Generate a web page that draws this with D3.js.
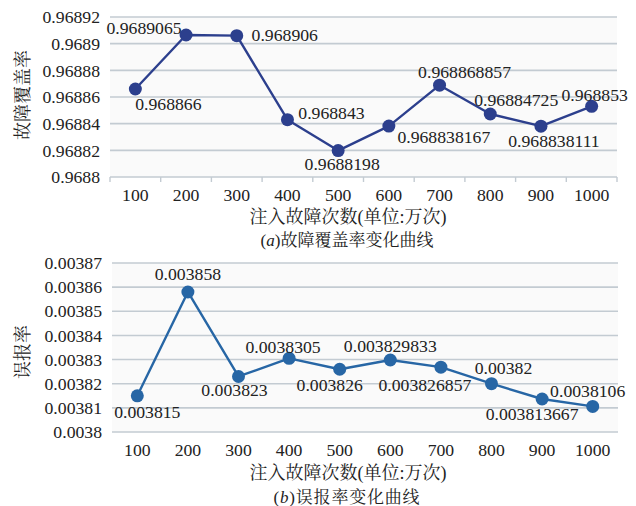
<!DOCTYPE html>
<html>
<head>
<meta charset="utf-8">
<script src="https://cdn.jsdelivr.net/npm/d3@7"></script>
<style>
  html, body { margin: 0; padding: 0; background: #fff; }
  svg { display: block; }
  text { font-family: "Liberation Serif", "Noto Serif CJK SC", serif; fill: #222; }
</style>
</head>
<body>
<svg id="chart" width="636" height="506"></svg>
<script>
// Injection counts (units of 10k)
const categories = ["100", "200", "300", "400", "500", "600", "700", "800", "900", "1000"];

// (a) fault coverage rate
const coverageValues = [0.968866, 0.9689065, 0.968906, 0.968843, 0.9688198,
                        0.968838167, 0.968868857, 0.96884725, 0.968838111, 0.968853];
const coverageLabels = ["0.968866", "0.9689065", "0.968906", "0.968843", "0.9688198",
                        "0.968838167", "0.968868857", "0.96884725", "0.968838111", "0.968853"];
const coverageTicks = ["0.9688", "0.96882", "0.96884", "0.96886", "0.96888", "0.9689", "0.96892"];

// (b) false alarm rate
const falseAlarmValues = [0.003815, 0.003858, 0.003823, 0.0038305, 0.003826,
                          0.003829833, 0.003826857, 0.00382, 0.003813667, 0.0038106];
const falseAlarmLabels = ["0.003815", "0.003858", "0.003823", "0.0038305", "0.003826",
                          "0.003829833", "0.003826857", "0.00382", "0.003813667", "0.0038106"];
const falseAlarmTicks = ["0.0038", "0.00381", "0.00382", "0.00383", "0.00384", "0.00385", "0.00386", "0.00387"];

const xTitle = "注入故障次数(单位:万次)";

const FONT = '"Liberation Serif", "Noto Serif CJK SC", serif';
const NUM_SIZE = 17.7;

const svg = d3.select("#chart");

function drawPanel(opt) {
  const g = svg.append("g");
  const x = d3.scaleBand().domain(categories).range([opt.left, opt.right]).padding(0);
  const tickNums = opt.ticks.map(Number);
  const y = d3.scaleLinear()
    .domain([d3.min(tickNums), d3.max(tickNums)])
    .range([opt.bottom, opt.top]);

  // plot background
  g.append("rect")
    .attr("x", opt.left).attr("y", opt.top)
    .attr("width", opt.right - opt.left).attr("height", opt.bottom - opt.top)
    .attr("fill", "#fafafa");

  // horizontal gridlines
  g.selectAll("line.grid").data(tickNums).join("line")
    .attr("class", "grid")
    .attr("x1", opt.left).attr("x2", opt.right)
    .attr("y1", d => y(d)).attr("y2", d => y(d))
    .attr("stroke", "#c3cbd2").attr("stroke-width", 1.6);

  // y tick labels
  const yAxis = d3.axisLeft(y).tickValues(tickNums)
    .tickFormat((d, i) => opt.ticks[i]).tickSize(0).tickPadding(10);
  const ya = g.append("g").attr("transform", `translate(${opt.left},0)`).call(yAxis);
  ya.select(".domain").remove();
  ya.selectAll("text").attr("font-size", NUM_SIZE)
    .style("font-family", FONT).attr("fill", "#222");

  // x axis
  const xAxis = d3.axisBottom(x).tickSize(0).tickPadding(11);
  const xa = g.append("g").attr("transform", `translate(0,${opt.bottom})`).call(xAxis);
  xa.select(".domain").remove();
  xa.selectAll("text").attr("font-size", NUM_SIZE)
    .style("font-family", FONT).attr("fill", "#222");

  if (opt.boundaryTicks) {
    const bounds = categories.map(c => x(c)).concat([x.range()[1]]);
    g.selectAll("line.btick").data(bounds).join("line")
      .attr("class", "btick")
      .attr("x1", d => d).attr("x2", d => d)
      .attr("y1", opt.bottom).attr("y2", opt.bottom + 5)
      .attr("stroke", "#c3cbd2").attr("stroke-width", 1.4);
  }

  const cx = c => x(c) + x.bandwidth() / 2;

  // series line
  const line = d3.line().x((d, i) => cx(categories[i])).y(d => y(d));
  g.append("path").datum(opt.values)
    .attr("d", line).attr("fill", "none")
    .attr("stroke", opt.color).attr("stroke-width", 2.4)
    .attr("stroke-linejoin", "round");

  // markers
  g.selectAll("circle.pt").data(opt.values).join("circle")
    .attr("class", "pt")
    .attr("cx", (d, i) => cx(categories[i])).attr("cy", d => y(d))
    .attr("r", 6.5).attr("fill", opt.color);

  // data labels
  g.selectAll("text.lbl").data(opt.values).join("text")
    .attr("class", "lbl")
    .attr("x", (d, i) => cx(categories[i]) + opt.labelShift[i][0])
    .attr("y", (d, i) => y(d) + opt.labelShift[i][1])
    .attr("text-anchor", "middle").attr("dominant-baseline", "central")
    .attr("font-size", NUM_SIZE)
    .style("font-family", FONT)
    .text((d, i) => opt.labels[i]);

  // axis titles and caption
  g.append("text")
    .attr("transform", `translate(23,${opt.yTitleY}) rotate(-90)`)
    .attr("text-anchor", "middle").attr("dominant-baseline", "central")
    .attr("font-size", 18).style("font-family", FONT).text(opt.yTitle);

  g.append("text")
    .attr("x", 348).attr("y", opt.xTitleY)
    .attr("text-anchor", "middle").attr("dominant-baseline", "central")
    .attr("font-size", 18).style("font-family", FONT).text(xTitle);

  const cap = g.append("text")
    .attr("x", 347).attr("y", opt.captionY)
    .attr("text-anchor", "middle").attr("dominant-baseline", "central")
    .attr("font-size", 17).attr("letter-spacing", opt.captionSpacing)
    .style("font-family", FONT);
  cap.append("tspan").text("(");
  cap.append("tspan").attr("font-style", "italic").text(opt.captionLetter);
  cap.append("tspan").text(")" + opt.caption);
}

drawPanel({
  left: 110, right: 617, top: 17, bottom: 177,
  ticks: coverageTicks, values: coverageValues, labels: coverageLabels,
  color: "#2c3f8d", boundaryTicks: true,
  labelShift: [[33, 15], [-42, -7], [48, -1], [44, -7], [4, 13],
               [55, 11], [25, -13], [26, -14], [13, 15], [3, -11]],
  yTitle: "故障覆盖率", yTitleY: 95, xTitleY: 217,
  captionY: 240, captionLetter: "a", caption: "故障覆盖率变化曲线", captionSpacing: 0
});

drawPanel({
  left: 112, right: 618, top: 263, bottom: 432,
  ticks: falseAlarmTicks, values: falseAlarmValues, labels: falseAlarmLabels,
  color: "#2766a5", boundaryTicks: false,
  labelShift: [[10, 16], [0, -18], [-4, 14], [-6, -11], [-10, 16],
               [0, -14], [-16, 18], [12, -16], [-10, 15], [-5, -15]],
  yTitle: "误报率", yTitleY: 352, xTitleY: 473,
  captionY: 497, captionLetter: "b", caption: "误报率变化曲线", captionSpacing: 0.8
});
</script>
</body>
</html>
